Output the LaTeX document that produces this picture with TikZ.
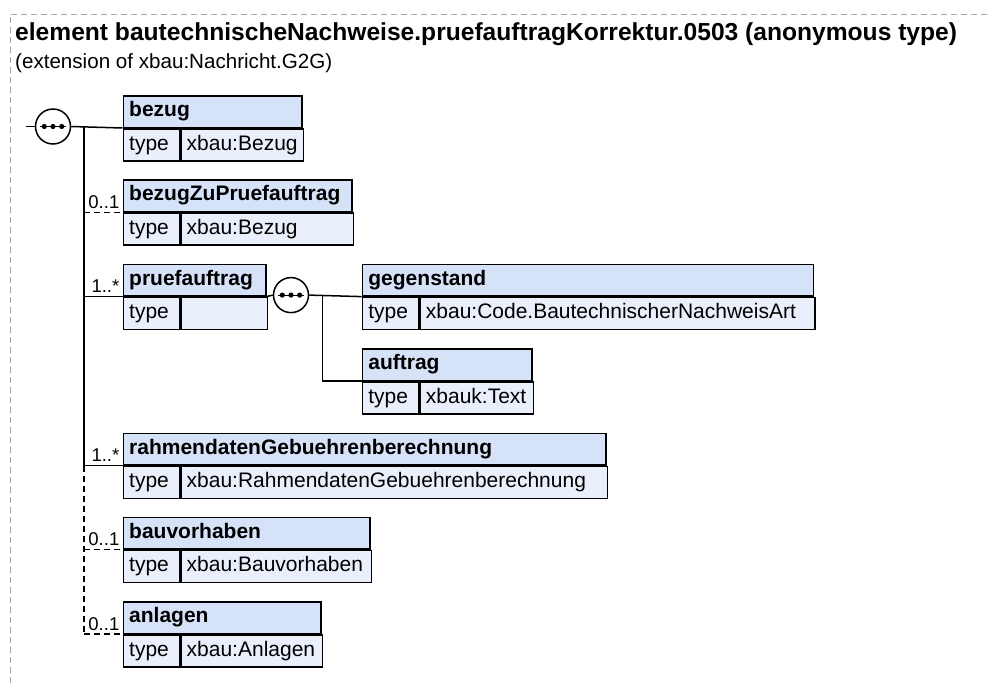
\documentclass[tikz,border=0pt]{standalone}
\usepackage{fontspec}
\setmainfont{Liberation Sans}
\definecolor{hdrfill}{RGB}{214,226,248}
\definecolor{rowfill}{RGB}{234,240,251}
\tikzset{
  boxline/.style={draw=black, line width=1.5pt},
  hdr/.style={boxline, fill=hdrfill, rectangle, inner sep=0pt, minimum height=31.5pt, anchor=north west},
  rowleft/.style={boxline, fill=rowfill, rectangle, inner sep=0pt, minimum height=32pt, minimum width=56.5pt, anchor=north west},
  rowright/.style={boxline, fill=rowfill, rectangle, inner sep=0pt, minimum height=32pt, anchor=north west},
  btxt/.style={font=\fontsize{21}{25}\selectfont\bfseries, anchor=base west, inner sep=0pt},
  ntxt/.style={font=\fontsize{21}{25}\selectfont, anchor=base west, inner sep=0pt},
  mult/.style={font=\fontsize{18.5}{20}\selectfont, anchor=base east, inner sep=0pt},
  conn/.style={line width=1.5pt},
  optconn/.style={line width=1.5pt, dash pattern=on 6pt off 4pt},
  seqc/.style={circle, draw=black, line width=1.5pt, fill=white, minimum size=35pt, inner sep=0pt},
  frameline/.style={draw=gray!70, line width=1pt, dash pattern=on 6pt off 4pt}
}
\newcommand{\xelem}[6]{%
  \node[hdr, minimum width=#4pt] (#1) at (#2,#3) {};
  \node[btxt] (#1-h) at ([xshift=6.5pt, yshift=-21.5pt]#1.north west) {#5};
  \node[rowleft] (#1-k) at (#1.south west) {};
  \node[rowright, minimum width=#4pt-56.5pt] (#1-v) at (#1-k.north east) {};
  \node[ntxt] (#1-kt) at ([xshift=6.5pt, yshift=-22pt]#1-k.north west) {type};
  \node[ntxt] (#1-vt) at ([xshift=6pt, yshift=-22pt]#1-v.north west) {#6};
}
\newcommand{\seqdots}[1]{%
  \draw[line width=1.2pt] ([xshift=-13pt]#1.center) -- ([xshift=13pt]#1.center);
  \foreach \dx in {-8.7,0,8.7} \fill ([xshift=\dx pt]#1.center) circle (2.6pt);
}
\begin{document}
\begin{tikzpicture}[x=1pt,y=-1pt]
\useasboundingbox (0,0) rectangle (987,683);
\draw[frameline] (10,683) -- (10,14) -- (987,14);
\node[font=\fontsize{24.6}{28}\selectfont\bfseries, anchor=base west, inner sep=0pt] (title) at (15,40) {element bautechnischeNachweise.pruefauftragKorrektur.0503 (anonymous type)};
\node[font=\fontsize{20.6}{24}\selectfont, anchor=base west, inner sep=0pt] (subtitle) at (15,68) {(extension of xbau:Nachricht.G2G)};

\xelem{bezug}{122.5}{95}{178.5}{bezug}{xbau:Bezug}
\xelem{bzp}{122.5}{179.3}{228.5}{bezugZuPruefauftrag}{xbau:Bezug}
\xelem{pruef}{122.5}{263.6}{142.5}{pruefauftrag}{}
\xelem{geg}{361.7}{263.6}{451}{gegenstand}{xbau:Code.BautechnischerNachweisArt}
\xelem{auf}{361.7}{348}{169.3}{auftrag}{xbauk:Text}
\xelem{rahmen}{122.5}{432.5}{482.5}{rahmendatenGebuehrenberechnung}{xbau:RahmendatenGebuehrenberechnung}
\xelem{bauv}{122.5}{516.7}{246.8}{bauvorhaben}{xbau:Bauvorhaben}
\xelem{anl}{122.5}{601}{197.5}{anlagen}{xbau:Anlagen}

% first sequence
\coordinate (start) at (26,126.5);
\node[seqc] (s1) at (53,126.5) {};
\draw[conn] (start) -- (s1.west);
\draw[conn] (s1.east) -- (bezug.south west);
\seqdots{s1}
\coordinate (j1) at (84,126.5);
\draw[conn] (j1) -- (j1 |- rahmen.south west);
\draw[optconn] (j1 |- rahmen.south west) -- (j1 |- anl.south west);
\draw[optconn] (j1 |- bzp.south west) -- (bzp.south west);
\draw[conn] (j1 |- pruef.south west) -- (pruef.south west);
\draw[conn] (j1 |- rahmen.south west) -- (rahmen.south west);
\draw[optconn] (j1 |- bauv.south west) -- (bauv.south west);
\draw[optconn] (j1 |- anl.south west) -- (anl.south west);

\node[mult] (m1) at ([xshift=-3pt,yshift=4pt]bzp.south west) {0..1};
\node[mult] (m2) at ([xshift=-3pt,yshift=4pt]pruef.south west) {1..*};
\node[mult] (m3) at ([xshift=-3pt,yshift=4pt]rahmen.south west) {1..*};
\node[mult] (m4) at ([xshift=-3pt,yshift=4pt]bauv.south west) {0..1};
\node[mult] (m5) at ([xshift=-3pt,yshift=4pt]anl.south west) {0..1};

% second sequence
\node[seqc] (s2) at (291,295.1) {};
\draw[conn] (pruef.south east) -- (s2.west);
\draw[conn] (s2.east) -- (geg.south west);
\seqdots{s2}
\coordinate (j2) at (322.7,295.1);
\draw[conn] (j2) |- (auf.south west);
\end{tikzpicture}
\end{document}
